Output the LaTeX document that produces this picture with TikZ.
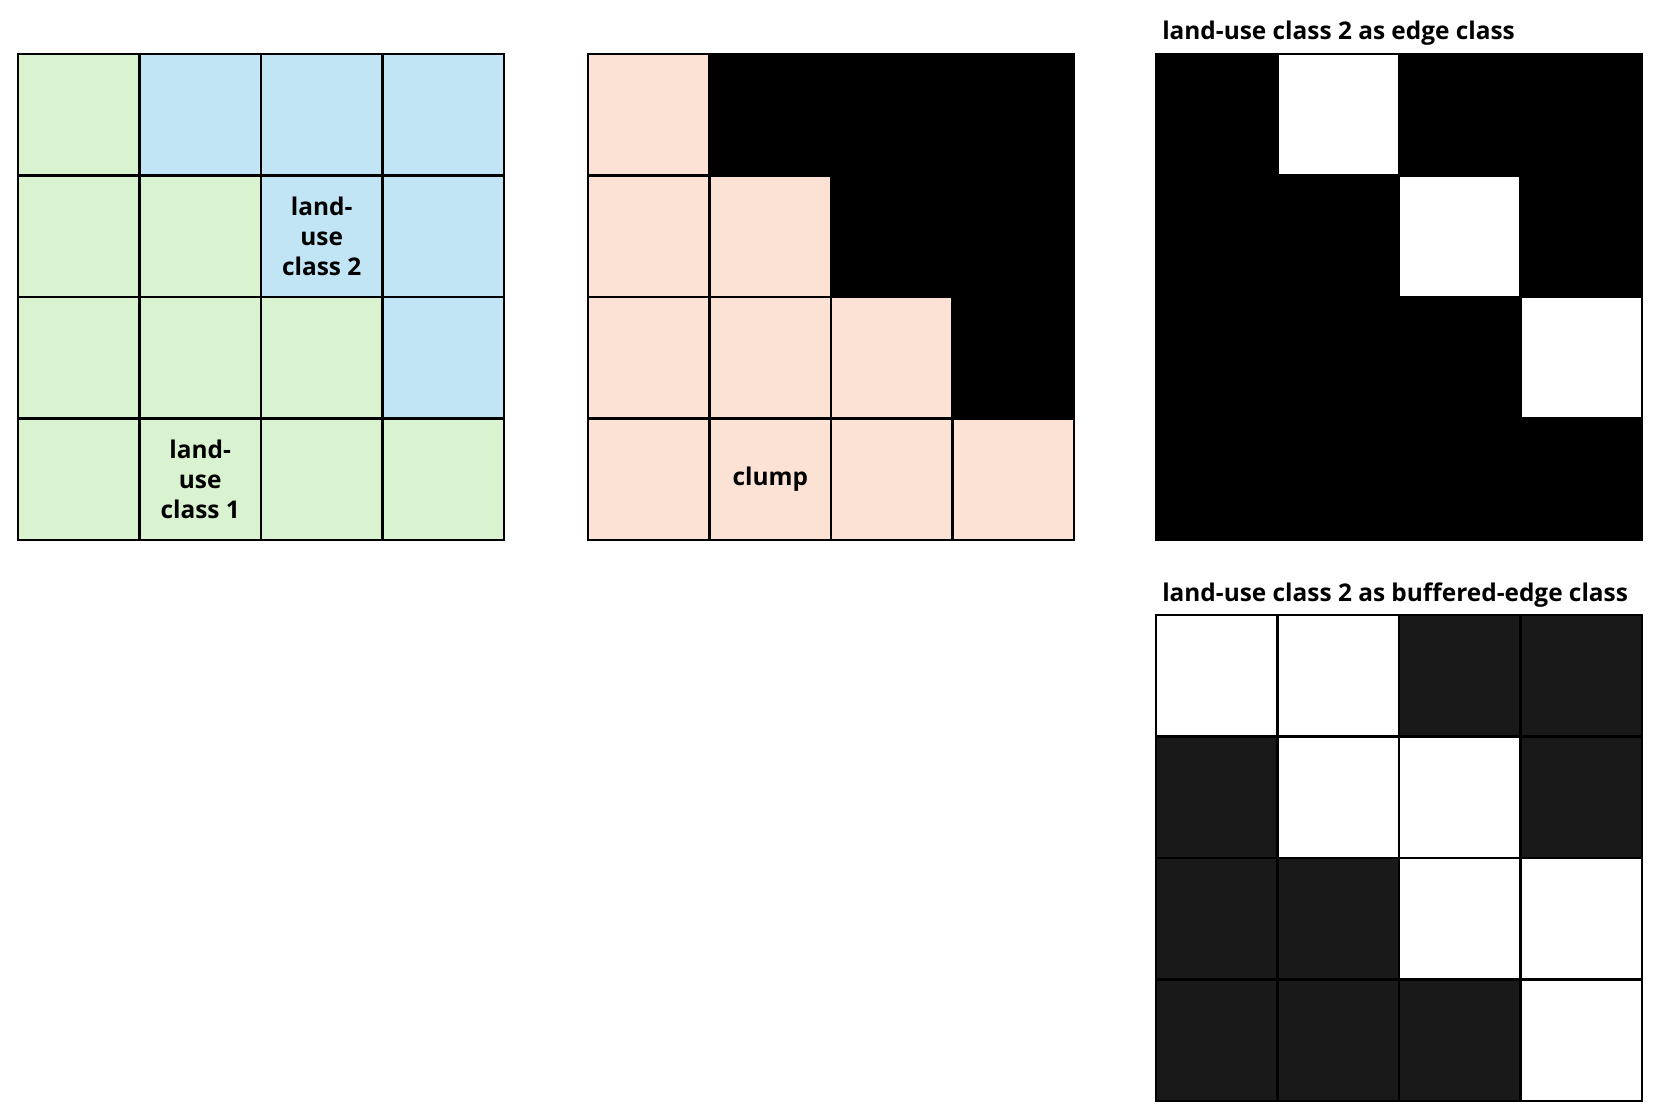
\documentclass[tikz,border=0pt]{standalone}
\usepackage{fontspec}
\setmainfont{Open Sans}
\definecolor{lgreen}{HTML}{D9F2D0}
\definecolor{lblue}{HTML}{C1E5F5}
\definecolor{lpeach}{HTML}{FBE2D5}
\definecolor{dgray}{HTML}{191919}
\definecolor{kk}{HTML}{000000}
\definecolor{ww}{HTML}{FFFFFF}
\newcommand{\cs}{121.5}
\newcommand{\cellgrid}[3]{%
  \foreach \c [count=\i from 0] in {#3} {%
    \pgfmathtruncatemacro{\col}{mod(\i,4)}%
    \pgfmathtruncatemacro{\row}{div(\i,4)}%
    \draw[cellbox, fill=\c] ({#1+\col*\cs},{#2+\row*\cs}) rectangle ++(\cs,\cs);
  }%
  \draw[cellbox] (#1,#2) rectangle ++(4*\cs,4*\cs);
}
\begin{document}
\begin{tikzpicture}[x=0.75pt,y=-0.75pt,
  cellbox/.style={draw=black, line width=2.1pt},
  celltext/.style={font=\fontsize{18.3}{22.7}\selectfont\bfseries, align=center, inner sep=0pt},
  titletext/.style={font=\fontsize{18.3}{22.7}\selectfont\bfseries, anchor=west, inner sep=0pt}]
\useasboundingbox[fill=white] (0,0) rectangle (1663,1117);
% grid 1
\cellgrid{18}{54}{lgreen,lblue,lblue,lblue, lgreen,lgreen,lblue,lblue, lgreen,lgreen,lgreen,lblue, lgreen,lgreen,lgreen,lgreen}
% grid 2
\cellgrid{588}{54}{lpeach,kk,kk,kk, lpeach,lpeach,kk,kk, lpeach,lpeach,lpeach,kk, lpeach,lpeach,lpeach,lpeach}
% grid 3
\cellgrid{1156}{54}{kk,ww,kk,kk, kk,kk,ww,kk, kk,kk,kk,ww, kk,kk,kk,kk}
% grid 4
\cellgrid{1156}{615}{ww,ww,dgray,dgray, dgray,ww,ww,dgray, dgray,dgray,ww,ww, dgray,dgray,dgray,ww}
% texts
\node[celltext] (lu2) at ({18+2.5*\cs},{54+1.5*\cs}) {land-\\use\\class 2};
\node[celltext] (lu1) at ({18+1.5*\cs},{54+3.5*\cs}) {land-\\use\\class 1};
\node[celltext] (clump) at ({588+1.5*\cs},{54+3.5*\cs}) {clump};
\node[titletext] (t1) at (1162,33) {land-use class 2 as edge class};
\node[titletext] (t2) at (1162,595) {land-use class 2 as buffered-edge class};
\end{tikzpicture}
\end{document}
